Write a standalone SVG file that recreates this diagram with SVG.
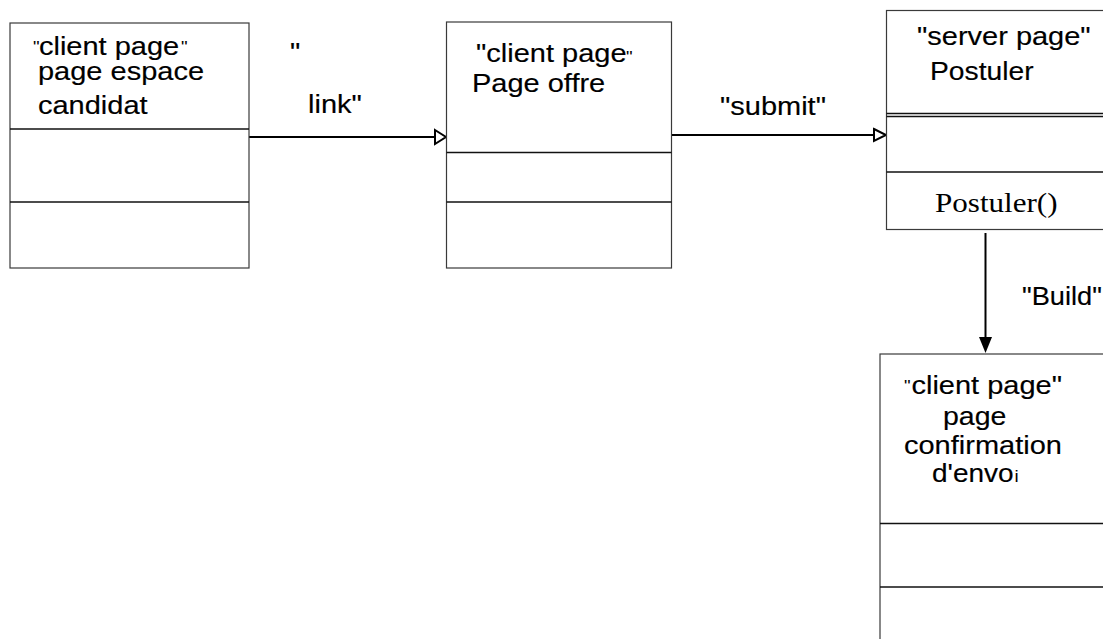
<svg xmlns="http://www.w3.org/2000/svg" width="1103" height="639" viewBox="0 0 1103 639">
<defs>
<style>
.box{fill:#fff;stroke:#3a3a3a;stroke-width:1.2}
.div{stroke:#111;stroke-width:1.5;fill:none}
.t{font-family:"Liberation Sans",Arial,sans-serif;font-size:25px;fill:#000;stroke:#000;stroke-width:0.15}
.sq{font-family:"Liberation Sans",Arial,sans-serif;font-size:16px;fill:#000}
.ser{font-family:"Liberation Serif","Times New Roman",serif;font-size:28px;fill:#000}
.conn{stroke:#000;stroke-width:2;fill:none}
</style>
</defs>
<rect width="1103" height="639" fill="#fff"/>
<g id="connectors">
<line class="conn" x1="249" y1="137" x2="436" y2="137"/>
<polygon points="435,130 446,137 435,144" fill="#fff" stroke="#000" stroke-width="2"/>
<text class="t" transform="matrix(1.16 0 0 1 290 61)">"</text>
<text class="t" transform="matrix(1.16 0 0 1 308 113)">link"</text>
<line class="conn" x1="672" y1="135" x2="874" y2="135"/>
<polygon points="874,129 886,135 874,141" fill="#fff" stroke="#000" stroke-width="2"/>
<text class="t" transform="matrix(1.16 0 0 1 720 115)">"submit"</text>
<line class="conn" x1="985.5" y1="233" x2="985.5" y2="338"/>
<polygon points="979,337 992,337 985.5,353" fill="#000"/>
<text class="t" transform="matrix(1.09 0 0 1 1022 305)">"Build"</text>
</g>
<g id="node-espace-candidat">
<rect class="box" x="10" y="23" width="239" height="245"/>
<line class="div" x1="10" y1="129" x2="249" y2="129"/>
<line class="div" x1="10" y1="202" x2="249" y2="202"/>
<text class="sq" transform="matrix(1.16 0 0 1 33 53)">"</text>
<text class="t" transform="matrix(1.16 0 0 1 39 55)">client page</text>
<text class="sq" transform="matrix(1.16 0 0 1 181 53)">"</text>
<text class="t" transform="matrix(1.16 0 0 1 38 80)">page espace</text>
<text class="t" transform="matrix(1.16 0 0 1 38 114)">candidat</text>
</g>
<g id="node-page-offre">
<rect class="box" x="446.5" y="22" width="225" height="246"/>
<line class="div" x1="446.5" y1="152.5" x2="671.5" y2="152.5"/>
<line class="div" x1="446.5" y1="202" x2="671.5" y2="202"/>
<text class="t" transform="matrix(1.16 0 0 1 476 62)">"client page</text>
<text class="sq" transform="matrix(1.16 0 0 1 626 63)">"</text>
<text class="t" transform="matrix(1.16 0 0 1 472 92)">Page offre</text>
</g>
<g id="node-postuler">
<rect class="box" x="886.5" y="10.5" width="230" height="219"/>
<line class="div" x1="886.5" y1="113.5" x2="1103" y2="113.5" stroke-width="1.2"/>
<line class="div" x1="886.5" y1="116.5" x2="1103" y2="116.5" stroke-width="1.2"/>
<line class="div" x1="886.5" y1="172" x2="1103" y2="172"/>
<text class="t" transform="matrix(1.16 0 0 1 917 45)">"server page"</text>
<text class="t" transform="matrix(1.13 0 0 1 930 80)">Postuler</text>
<text class="ser" transform="matrix(1.11 0 0 1 935 212)">Postuler()</text>
</g>
<g id="node-confirmation">
<rect class="box" x="880" y="354" width="240" height="300"/>
<line class="div" x1="880" y1="523.5" x2="1103" y2="523.5"/>
<line class="div" x1="880" y1="587" x2="1103" y2="587"/>
<text class="sq" transform="matrix(1.16 0 0 1 904 391.5)">"</text>
<text class="t" transform="matrix(1.16 0 0 1 911.5 393.5)">client page"</text>
<text class="t" transform="matrix(1.14 0 0 1 943 425)">page</text>
<text class="t" transform="matrix(1.16 0 0 1 904 453.5)">confirmation</text>
<text class="t" transform="matrix(1.12 0 0 1 932 482)">d'envo</text>
<text class="sq" transform="matrix(1.16 0 0 1 1014.5 482)">i</text>
</g>
</svg>
